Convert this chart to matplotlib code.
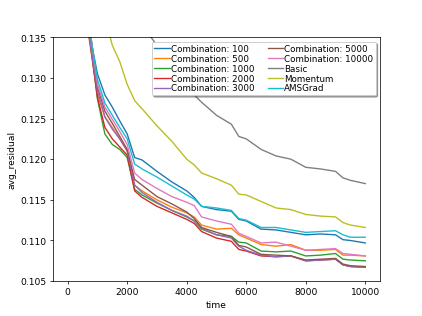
import matplotlib
matplotlib.use("Agg")
import matplotlib.pyplot as plt

time = [0, 500, 750, 1000, 1250, 1500, 1750, 2000, 2250, 2500, 3000, 3500, 4000, 4250,
        4500, 5000, 5500, 5750, 6000, 6500, 7000, 7500, 8000, 8500, 9000, 9250, 9500, 10000]

comb_100 = [0.170, 0.140, 0.1352, 0.1305, 0.1279, 0.1264, 0.1247, 0.1231, 0.1202, 0.1199,
            0.1185, 0.1172, 0.1161, 0.1153, 0.1142, 0.1138, 0.1136, 0.1126, 0.1124, 0.1114,
            0.1113, 0.1110, 0.1107, 0.1108, 0.1107, 0.1101, 0.1100, 0.1097]
comb_500 = [0.170, 0.140, 0.1341, 0.1280, 0.1252, 0.1239, 0.1225, 0.1210, 0.1168, 0.1161,
            0.1150, 0.1141, 0.1134, 0.1129, 0.1119, 0.1114, 0.1115, 0.1107, 0.1103, 0.1095,
            0.1093, 0.1095, 0.1088, 0.1088, 0.1089, 0.1082, 0.1082, 0.1081]
comb_1000 = [0.170, 0.140, 0.1348, 0.1274, 0.1231, 0.1218, 0.1212, 0.1202, 0.1163, 0.1156,
             0.1146, 0.1137, 0.1129, 0.1124, 0.1114, 0.1107, 0.1105, 0.1098, 0.1097, 0.1087,
             0.1086, 0.1087, 0.1081, 0.1082, 0.1084, 0.1077, 0.1076, 0.1075]
comb_2000 = [0.170, 0.140, 0.1345, 0.1276, 0.1239, 0.1225, 0.1215, 0.1205, 0.1161, 0.1153,
             0.1142, 0.1134, 0.1126, 0.1121, 0.1111, 0.1103, 0.1099, 0.1089, 0.1087, 0.1081,
             0.1080, 0.1081, 0.1075, 0.1076, 0.1077, 0.1070, 0.1068, 0.1067]
comb_3000 = [0.170, 0.140, 0.1345, 0.1284, 0.1252, 0.1237, 0.1225, 0.1210, 0.1168, 0.1159,
             0.1147, 0.1137, 0.1130, 0.1124, 0.1115, 0.1107, 0.1103, 0.1093, 0.1088, 0.1082,
             0.1080, 0.1081, 0.1075, 0.1076, 0.1077, 0.1070, 0.1068, 0.1067]
comb_5000 = [0.170, 0.140, 0.1360, 0.1289, 0.1259, 0.1244, 0.1228, 0.1212, 0.1175, 0.1168,
             0.1154, 0.1145, 0.1135, 0.1127, 0.1116, 0.1110, 0.1105, 0.1094, 0.1092, 0.1083,
             0.1082, 0.1081, 0.1076, 0.1077, 0.1078, 0.1071, 0.1069, 0.1068]
comb_10000 = [0.170, 0.140, 0.1358, 0.1292, 0.1264, 0.1249, 0.1234, 0.1218, 0.1183, 0.1175,
              0.1164, 0.1154, 0.1147, 0.1143, 0.1129, 0.1124, 0.1120, 0.1109, 0.1105, 0.1097,
              0.1098, 0.1093, 0.1088, 0.1089, 0.1090, 0.1084, 0.1083, 0.1081]
basic = [0.160, 0.153, 0.150, 0.147, 0.145, 0.143, 0.141, 0.1395, 0.138, 0.1365,
         0.1340, 0.1315, 0.1292, 0.1279, 0.1270, 0.1254, 0.1243, 0.1228, 0.1225, 0.1212,
         0.1204, 0.1200, 0.1190, 0.1188, 0.1185, 0.1177, 0.1174, 0.1170]
momentum = [0.160, 0.148, 0.145, 0.1410, 0.1375, 0.1340, 0.1320, 0.1292, 0.1272, 0.1262,
            0.1241, 0.1222, 0.1200, 0.1193, 0.1183, 0.1176, 0.1168, 0.1157, 0.1156, 0.1148,
            0.1140, 0.1138, 0.1132, 0.1130, 0.1129, 0.1122, 0.1119, 0.1116]
amsgrad = [0.170, 0.140, 0.1355, 0.1298, 0.1269, 0.1254, 0.1239, 0.1225, 0.1194, 0.1188,
           0.1178, 0.1167, 0.1156, 0.1151, 0.1142, 0.1140, 0.1137, 0.1127, 0.1125, 0.1116,
           0.1116, 0.1113, 0.1110, 0.1111, 0.1112, 0.1107, 0.1104, 0.1104]

labels = ["Combination: 100", "Combination: 500", "Combination: 1000", "Combination: 2000",
          "Combination: 3000", "Combination: 5000", "Combination: 10000", "Basic",
          "Momentum", "AMSGrad"]
series = [comb_100, comb_500, comb_1000, comb_2000, comb_3000, comb_5000, comb_10000,
          basic, momentum, amsgrad]

fig, ax = plt.subplots(figsize=(6.4, 4.8), dpi=66)
for s, lab in zip(series, labels):
    ax.plot(time, s, label=lab)
ax.set_ylim(0.105, 0.135)
ax.set_xlim(-500, 10500)
ax.set_xlabel("time")
ax.set_ylabel("avg_residual")
ax.legend(loc="upper right", ncol=2, shadow=True, fontsize=9.5,
          labelspacing=0.1, handletextpad=0.1, columnspacing=1.5,
          handlelength=1.8, borderpad=0.3)
fig.savefig("out.png", dpi=66)
